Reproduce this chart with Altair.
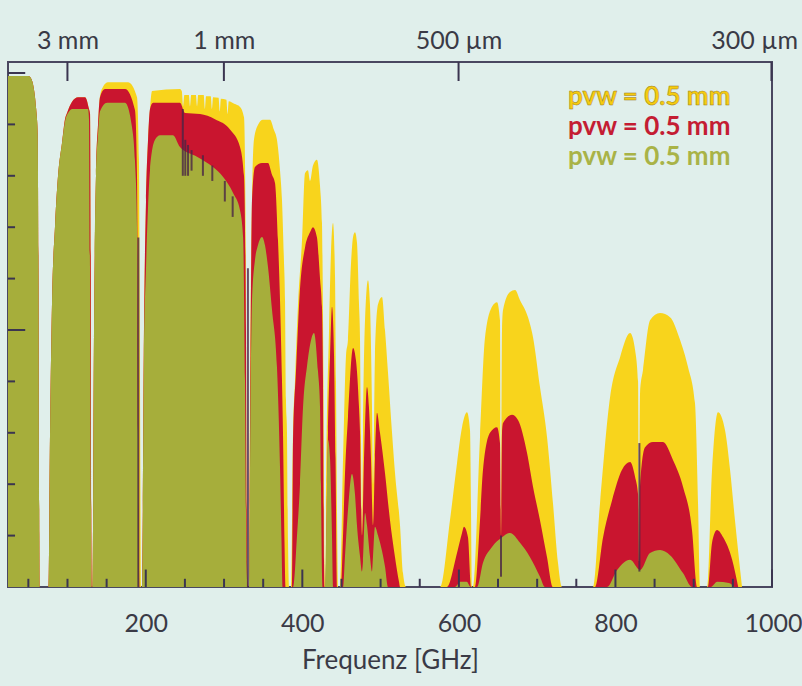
import altair as alt
import pandas as pd

# ---------------- data ----------------
# atmospheric transmission (0..1) versus frequency (GHz), three water-vapour cases
YELLOW = [
    (24, 0.994), (50, 0.994), (54, 0.988), (57, 0.97), (60, 0.93), (62, 0.88), (63, 0.6), (64, 0.1), (64.5, 0),
    (75.7, 0), (77.7, 0.3), (80.2, 0.55), (84, 0.7), (87.9, 0.8), (93, 0.864), (96.8, 0.91), (99.4, 0.922),
    (105.8, 0.944), (113.4, 0.953), (122.4, 0.953), (127.5, 0.93), (128.8, 0.92), (129.8, 0.6), (130.5, 0.1), (130.9, 0),
    (131.9, 0), (133.9, 0.5), (136.4, 0.8), (139, 0.9), (141.5, 0.955), (145.3, 0.973), (151.7, 0.982), (177.3, 0.982),
    (188.8, 0.953), (191.3, 0.83), (192.6, 0.4), (193.9, 0),
    (195.2, 0), (197.7, 0.5), (200.3, 0.75), (202.9, 0.87), (205.4, 0.93), (208, 0.965), (243.7, 0.969), (246, 0.965),
    (247.6, 0.935), (249.3, 0.957), (255, 0.957), (256.5, 0.935), (258, 0.957), (264, 0.957), (265.5, 0.935),
    (267, 0.957), (274, 0.957), (275.5, 0.93), (277, 0.955), (283, 0.955), (284.5, 0.93), (286, 0.953), (293, 0.952),
    (294.5, 0.925), (296, 0.95), (303, 0.948), (304.5, 0.92), (306, 0.945), (313, 0.94), (320.4, 0.934),
    (325.5, 0.914), (328, 0.6), (329.3, 0.05), (330.6, 0),
    (331.9, 0), (333.1, 0.364), (335.7, 0.753), (338.2, 0.87), (343.3, 0.899), (349.7, 0.909), (358.7, 0.909),
    (363.8, 0.889), (367.6, 0.87), (371.5, 0.811), (374, 0.753), (376.5, 0.636), (377.9, 0.558), (379.1, 0.364),
    (380.4, 0.3), (381.7, 0.09), (383, 0),
    (385.5, 0), (388.1, 0.3), (390.6, 0.4), (394.5, 0.55), (399.6, 0.675), (403.4, 0.805), (407.2, 0.811),
    (409.8, 0.79), (413.6, 0.82), (418.7, 0.831), (422.6, 0.78), (425.1, 0.708), (427, 0.4), (428.3, 0.05), (429, 0),
    (429.6, 0), (430.3, 0.2), (434.1, 0.5), (436.6, 0.65), (439.2, 0.708), (441.8, 0.6), (443, 0.4), (444.3, 0.15), (445.6, 0),
    (448.1, 0), (452, 0.25), (455.8, 0.45), (458.3, 0.481), (462.2, 0.63), (464.8, 0.681), (467.3, 0.69), (469.8, 0.67),
    (472.4, 0.55), (473.7, 0.481), (474.9, 0.3), (476.2, 0.1), (477.5, 0.3), (480.1, 0.52), (483.9, 0.597),
    (486.4, 0.55), (489, 0.35), (490.3, 0.2), (492.8, 0.45), (496.7, 0.55), (501.8, 0.564), (505.6, 0.5),
    (509.5, 0.416), (514.6, 0.3), (518.4, 0.222), (524.8, 0.12), (528.6, 0.027), (532.5, 0),
    (575.9, 0), (588.6, 0.13), (597.6, 0.241), (604, 0.311), (610.3, 0.34), (614.2, 0.305), (615.5, 0.15), (616.7, 0),
    (618, 0), (627, 0.292), (633.4, 0.486), (642.3, 0.545), (648.7, 0.554), (652.5, 0.519), (653.8, 0.1), (655.1, 0.5),
    (656.4, 0.539), (665.3, 0.574), (671.7, 0.578), (678.1, 0.558), (688.3, 0.525), (694.7, 0.486), (703.6, 0.389),
    (712.6, 0.292), (720.2, 0.163), (726.6, 0.047), (731.7, 0),
    (771.3, 0), (780.3, 0.163), (793.2, 0.37), (805.9, 0.447), (818.7, 0.494), (825.1, 0.461), (828.9, 0.4),
    (830.2, 0.05), (831.5, 0.38), (835.2, 0.422), (844.2, 0.519), (857, 0.533), (869.7, 0.525), (882.5, 0.481),
    (892.7, 0.428), (901.6, 0.358), (905.5, 0.163), (908, 0),
    (917, 0), (923.4, 0.228), (931, 0.34), (940, 0.305), (946.4, 0.228), (952.7, 0.13), (961.7, 0),
]

RED = [
    (24, 0.994), (50, 0.994), (54, 0.988), (57, 0.97), (60, 0.93), (62, 0.88), (63, 0.6), (64, 0.1), (64.5, 0),
    (75.7, 0), (77.7, 0.3), (80.2, 0.55), (84, 0.7), (87.9, 0.8), (93, 0.864), (96.8, 0.91), (99.4, 0.922),
    (105.8, 0.944), (113.4, 0.953), (122.4, 0.953), (127.5, 0.93), (128.8, 0.92), (129.8, 0.6), (130.5, 0.1), (130.9, 0),
    (131.9, 0), (133.9, 0.5), (136.4, 0.8), (139, 0.9), (141.5, 0.953), (147.9, 0.969), (173.5, 0.969),
    (186.2, 0.928), (188.8, 0.8), (190, 0.5), (191.3, 0.05), (191.9, 0),
    (195.2, 0), (197.7, 0.5), (200.3, 0.75), (202.9, 0.87), (205.4, 0.93), (209.3, 0.942), (243.7, 0.942),
    (250.1, 0.922), (269.3, 0.92), (288.4, 0.91), (307.6, 0.89), (320.4, 0.856), (325.5, 0.8), (328, 0.5),
    (329.3, 0.05), (330.6, 0),
    (331.9, 0), (333.8, 0.45), (335.7, 0.753), (339.5, 0.817), (348.5, 0.825), (356.1, 0.825), (361.3, 0.802),
    (365.1, 0.786), (368.9, 0.675), (371.5, 0.558), (374, 0.403), (375.3, 0.3), (377.2, 0.09), (378.5, 0),
    (386.8, 0), (388.1, 0.286), (391.9, 0.42), (397, 0.58), (403.4, 0.66), (409.8, 0.69), (413.6, 0.7),
    (418.7, 0.68), (422.6, 0.6), (425.1, 0.545), (426.4, 0.4), (427.7, 0.05), (428.3, 0),
    (429.6, 0), (430.3, 0.05), (432.8, 0.3), (435.4, 0.45), (437.9, 0.545), (440.5, 0.45), (442.4, 0.25), (444.3, 0),
    (449.4, 0), (452, 0.1), (454.5, 0.22), (458.3, 0.33), (464.8, 0.465), (468.6, 0.44), (472.4, 0.35),
    (473.7, 0.3), (476.2, 0.1), (478.8, 0.25), (482.6, 0.389), (485.1, 0.35), (487.7, 0.25), (490.3, 0.12),
    (492.8, 0.25), (495.4, 0.339), (499.2, 0.3), (505.6, 0.222), (512, 0.13), (518.4, 0.058), (523.5, 0.01), (524.8, 0),
    (584.6, 0), (597.6, 0.066), (604, 0.105), (606.5, 0.117), (611.6, 0.097), (615.5, 0),
    (620.6, 0), (627, 0.13), (630.8, 0.228), (639.7, 0.3), (648.7, 0.311), (652.5, 0.28), (653.8, 0.1), (655.1, 0.3),
    (656.4, 0.319), (667.8, 0.335), (675.5, 0.325), (687, 0.261), (694.7, 0.195), (703.6, 0.13), (712.6, 0.058), (720.2, 0),
    (773.9, 0), (784.2, 0.097), (795.7, 0.169), (808.4, 0.228), (818.7, 0.243), (825.1, 0.214), (828.9, 0.18),
    (830.2, 0.05), (831.5, 0.2), (837.8, 0.272), (848, 0.282), (860.7, 0.282), (873.5, 0.247), (886.3, 0.195),
    (897.8, 0.111), (904.2, 0),
    (918.2, 0), (923.4, 0.086), (929.8, 0.111), (937.6, 0.097), (949.1, 0.053), (956.8, 0),
]

GREEN = [
    (24, 0.994), (50, 0.994), (54, 0.988), (57, 0.97), (60, 0.93), (62, 0.88), (63, 0.6), (64, 0.1), (64.5, 0),
    (75.7, 0), (77.7, 0.3), (80.2, 0.55), (84, 0.7), (87.9, 0.8), (93, 0.864), (96.8, 0.905), (102, 0.925),
    (106, 0.93), (126.2, 0.93), (127.5, 0.909), (128.8, 0.6), (130.2, 0.1), (130.7, 0),
    (131.9, 0), (133.9, 0.5), (136.4, 0.8), (139, 0.88), (141.5, 0.925), (150.5, 0.942), (173.5, 0.942),
    (182.4, 0.895), (186.2, 0.83), (188.8, 0.7), (190, 0.3), (191.3, 0),
    (195.2, 0), (197.7, 0.45), (200.3, 0.62), (202.9, 0.74), (205.4, 0.811), (211.8, 0.87), (218.2, 0.879),
    (234.8, 0.879), (243.7, 0.856), (265.4, 0.837), (285.8, 0.817), (298.6, 0.798), (311.4, 0.767),
    (320.4, 0.733), (324.3, 0.681), (326.8, 0.4), (328.7, 0.05), (330, 0),
    (331.9, 0), (333.8, 0.364), (335.7, 0.558), (339.5, 0.636), (343.3, 0.665), (348.5, 0.681), (352.3, 0.665),
    (356.1, 0.623), (361.3, 0.539), (367.6, 0.428), (371.5, 0.233), (373.4, 0.09), (374.7, 0),
    (388.1, 0), (393.2, 0.1), (397, 0.2), (400.9, 0.35), (406, 0.43), (411.1, 0.48), (414.9, 0.494), (420, 0.42),
    (422.6, 0.35), (423.8, 0.2), (425.1, 0.027), (425.8, 0),
    (429, 0), (431.5, 0.2), (432.8, 0.286), (435.4, 0.25), (437.9, 0.1), (439.2, 0),
    (452, 0), (454.5, 0.06), (458.3, 0.15), (463.4, 0.22), (467.3, 0.18), (469.8, 0.12), (473.7, 0.06),
    (476.2, 0.03), (477.5, 0.05), (480.1, 0.144), (482.6, 0.12), (486.4, 0.06), (489, 0.03), (490.3, 0.06),
    (492.8, 0.117), (496.7, 0.1), (501.8, 0.07), (505.6, 0.04), (509.5, 0),
    (595, 0), (602, 0.01), (610, 0.01), (615, 0),
    (623.2, 0), (630.8, 0.047), (642.3, 0.078), (655.1, 0.097), (665.3, 0.105), (678.1, 0.086), (690.9, 0.058),
    (703.6, 0.02), (710, 0),
    (789.2, 0), (802.1, 0.033), (818.7, 0.053), (831.5, 0.033), (844.2, 0.066), (857, 0.072), (869.7, 0.062),
    (886.3, 0.027), (897.8, 0),
    (922, 0), (930, 0.01), (945, 0.008), (952, 0),
]

# narrow dark absorption streaks: frequency, lower and upper transmission
DARK_F = [190.5, 330.5, 247.3, 250.5, 254.0, 258.5, 273.0, 285.0, 301.0, 311.0, 653.8, 830.6]
DARK_LO = [0.0, 0.0, 0.80, 0.80, 0.80, 0.81, 0.80, 0.79, 0.75, 0.72, 0.02, 0.03]
DARK_HI = [0.68, 0.62, 0.93, 0.87, 0.86, 0.85, 0.84, 0.82, 0.79, 0.76, 0.10, 0.28]

LEGEND_TEXT = ["pvw = 0.5 mm", "pvw = 0.5 mm", "pvw = 0.5 mm"]
LEGEND_COLORS = ["#f5cc10", "#c41d33", "#a9b347"]

BOTTOM_LABELS = [200, 400, 600, 800, 1000]
BOTTOM_MINOR = [50, 100, 150, 250, 300, 350, 450, 500, 550, 650, 700, 750, 850, 900, 950]
TOP_WAVELENGTH_MM = [3, 1, 0.5, 0.3]
TOP_LABELS = ["3 mm", "1 mm", "500 µm", "300 µm"]
LEFT_MINOR = [0.1, 0.2, 0.3, 0.4, 0.6, 0.7, 0.8, 0.9]
LEFT_MAJOR = [0.5, 1.0]

# ---------------- chart ----------------
F_MIN, F_MAX = 24, 1000
T_MAX = 1.0214
W, H = 764, 525
FONT = "Lato"
INK = "#3a3a46"
TICK = "#3b3550"

xs = alt.Scale(domain=[F_MIN, F_MAX], nice=False, zero=False)
ys = alt.Scale(domain=[0, T_MAX], nice=False, zero=False)

top_freqs = [299.792458 / mm for mm in TOP_WAVELENGTH_MM]
label_expr = "''"
for f, lab in reversed(list(zip(top_freqs, TOP_LABELS))):
    label_expr = f"abs(datum.value - {f:.3f}) < 1 ? '{lab}' : {label_expr}"

bottom_axis = alt.Axis(
    orient="bottom", values=BOTTOM_LABELS, format="d", ticks=False, domain=False, grid=False,
    labelFlush=True, labelFlushOffset=30, labelFont=FONT, labelFontSize=25, labelColor=INK,
    labelPadding=24,
    title="Frequenz [GHz]", titleFont=FONT, titleFontSize=26, titleFontWeight="normal",
    titleColor=INK, titlePadding=11,
)
top_axis = alt.Axis(
    orient="top", values=top_freqs, labelExpr=label_expr, ticks=False, domain=False, grid=False,
    labelFlush=True, labelFlushOffset=26, labelFont=FONT, labelFontSize=25, labelColor=INK,
    labelPadding=9, title=None,
)


def area(points, color, axis=None):
    df = pd.DataFrame(points, columns=["f", "t"])
    return alt.Chart(df).mark_area(color=color, interpolate="monotone", opacity=1).encode(
        x=alt.X("f:Q", scale=xs, axis=axis),
        y=alt.Y("t:Q", scale=ys, axis=None, stack=None),
    )


yellow = area(YELLOW, "#f8d41c", bottom_axis)
red = area(RED, "#c9152f")
green = area(GREEN, "#a6ae3b")

dark = alt.Chart(pd.DataFrame({"f": DARK_F, "lo": DARK_LO, "hi": DARK_HI})).mark_rule(
    color="#4a2646", strokeWidth=2, opacity=0.8
).encode(
    x=alt.X("f:Q", scale=xs, axis=None),
    y=alt.Y("lo:Q", scale=ys, axis=None),
    y2="hi:Q",
)

# inward ticks
bt = pd.DataFrame({"f": BOTTOM_MINOR + BOTTOM_LABELS,
                   "t0": [0.0] * (len(BOTTOM_MINOR) + len(BOTTOM_LABELS)),
                   "t1": [0.016] * len(BOTTOM_MINOR) + [0.034] * len(BOTTOM_LABELS)})
bottom_ticks = alt.Chart(bt).mark_rule(color=TICK, strokeWidth=2).encode(
    x=alt.X("f:Q", scale=xs, axis=None),
    y=alt.Y("t0:Q", scale=ys, axis=None),
    y2="t1:Q",
)

lt = pd.DataFrame({"t": LEFT_MINOR + LEFT_MAJOR,
                   "f0": [F_MIN] * (len(LEFT_MINOR) + len(LEFT_MAJOR)),
                   "f1": [F_MIN + 9] * len(LEFT_MINOR) + [F_MIN + 22] * len(LEFT_MAJOR)})
left_ticks = alt.Chart(lt).mark_rule(color=TICK, strokeWidth=2).encode(
    y=alt.Y("t:Q", scale=ys, axis=None),
    x=alt.X("f0:Q", scale=xs, axis=None),
    x2="f1:Q",
)

tt = pd.DataFrame({"f": top_freqs, "t0": [T_MAX] * len(top_freqs), "t1": [T_MAX - 0.037] * len(top_freqs)})
top_ticks = alt.Chart(tt).mark_rule(color=TICK, strokeWidth=2).encode(
    x=alt.X("f:Q", scale=xs, axis=top_axis),
    y=alt.Y("t0:Q", scale=ys, axis=None),
    y2="t1:Q",
)

legend_layers = []
for i, (txt, col) in enumerate(zip(LEGEND_TEXT, LEGEND_COLORS)):
    extra = {"stroke": "#9a7a18", "strokeWidth": 0.45} if i == 0 else {}
    legend_layers.append(
        alt.Chart(pd.DataFrame({"label": [txt]})).mark_text(
            align="left", baseline="alphabetic", font=FONT, fontSize=26, fontWeight="bold",
            color=col, **extra
        ).encode(text="label:N", x=alt.value(560), y=alt.value(43 + 30 * i))
    )

chart = (
    alt.layer(yellow, red, green, dark, bottom_ticks, left_ticks, top_ticks, *legend_layers)
    .resolve_axis(x="independent")
    .properties(
        width=W, height=H,
        autosize=alt.AutoSizeParams(type="none"),
        padding={"left": 8, "top": 62, "right": 30, "bottom": 99},
        background="#e0efeb",
    )
    .configure_view(stroke="#4a4860", strokeWidth=2)
)

chart.save("out.html", embed_options={"renderer": "svg", "actions": False})
